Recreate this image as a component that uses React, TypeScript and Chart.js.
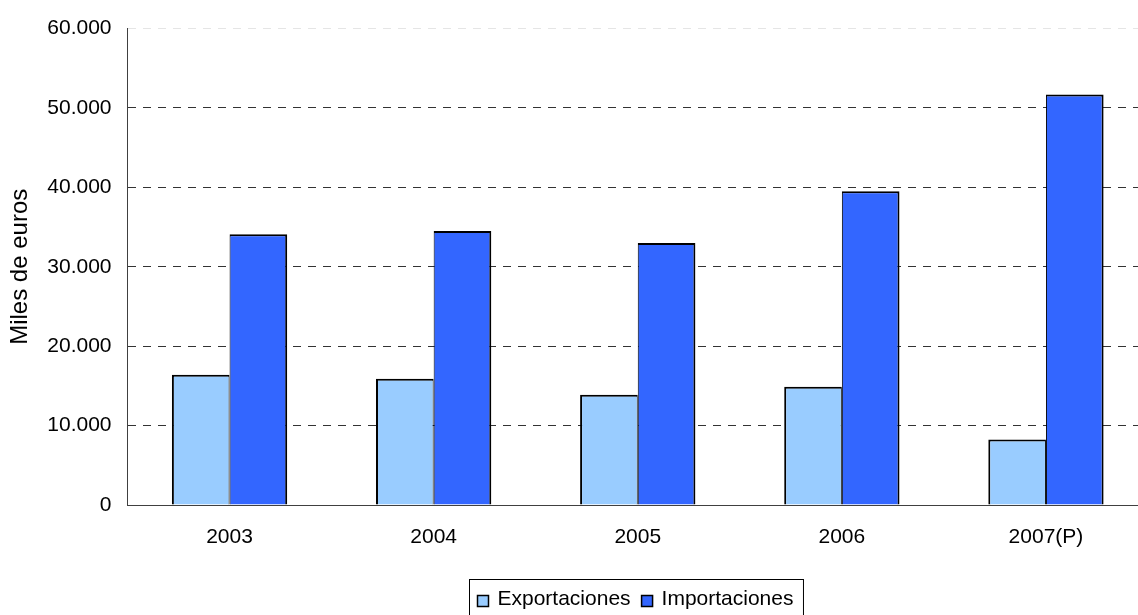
import React, { useEffect, useRef } from "react";
import { Chart, registerables } from "chart.js";

Chart.register(...registerables);

const categories = ["2003", "2004", "2005", "2006", "2007(P)"];
const exportaciones = [16400, 15900, 13900, 14900, 8250];
const importaciones = [34100, 34500, 33000, 39500, 51700];
const seriesLabels = ["Exportaciones", "Importaciones"];
const seriesColors = ["#99CCFF", "#3366FF"];
const yAxisTitle = "Miles de euros";

const FONT = "'Liberation Sans', Arial, sans-serif";

const fmt = (v: number) => String(v).replace(/\B(?=(\d{3})+(?!\d))/g, ".");

const boxLegend = {
  id: "boxLegend",
  afterDraw(chart: any) {
    const ctx = chart.ctx as CanvasRenderingContext2D;
    ctx.save();
    ctx.font = `21px ${FONT}`;
    const sw = 11;
    const padL = 8;
    const gapSwText = 9;
    const gapItems = 11;
    const padR = 10;
    const widths = seriesLabels.map((l) => ctx.measureText(l).width);
    let total = padL + padR;
    widths.forEach((w, i) => {
      total += sw + gapSwText + w + (i < widths.length - 1 ? gapItems : 0);
    });
    const cx = (chart.chartArea.left + chart.chartArea.right) / 2;
    const left = Math.round(cx - total / 2) - 1.5;
    const top = 579.5;
    ctx.strokeStyle = "#000";
    ctx.lineWidth = 1;
    ctx.strokeRect(left, top, total, 60);
    let x = left + padL;
    const baseline = 604.5;
    seriesLabels.forEach((label, i) => {
      ctx.fillStyle = seriesColors[i];
      ctx.fillRect(x, 595.5, sw, sw);
      ctx.strokeStyle = "#000";
      ctx.lineWidth = 1.5;
      ctx.strokeRect(x, 595.5, sw, sw);
      x += sw + gapSwText;
      ctx.fillStyle = "#000";
      ctx.textBaseline = "alphabetic";
      ctx.textAlign = "left";
      ctx.fillText(label, x, baseline);
      x += widths[i] + gapItems;
    });
    ctx.restore();
  },
};

export default function App() {
  const ref = useRef<HTMLCanvasElement | null>(null);

  useEffect(() => {
    if (!ref.current) return;
    Chart.defaults.color = "#000";
    Chart.defaults.font.family = FONT;
    const chart = new Chart(ref.current, {
      type: "bar",
      data: {
        labels: categories,
        datasets: [
          {
            label: seriesLabels[0],
            data: exportaciones,
            backgroundColor: seriesColors[0],
            borderColor: "#000",
            borderWidth: { top: 2, left: 2, right: 1, bottom: 0 },
            borderSkipped: false,
          },
          {
            label: seriesLabels[1],
            data: importaciones,
            backgroundColor: seriesColors[1],
            borderColor: "#000",
            borderWidth: { top: 2, left: 1, right: 2, bottom: 0 },
            borderSkipped: false,
          },
        ],
      },
      options: {
        animation: false,
        responsive: false,
        maintainAspectRatio: false,
        layout: { padding: { top: 27, right: 127, left: 0, bottom: 0 } },
        plugins: {
          legend: { display: false },
          tooltip: { enabled: false },
        },
        datasets: {
          bar: { categoryPercentage: 0.565, barPercentage: 1 },
        },
        scales: {
          x: {
            grid: { display: false, drawTicks: false },
            border: { display: true, color: "#404040", width: 1 },
            ticks: { font: { size: 21 }, padding: 20, color: "#000", maxRotation: 0 },
            afterFit: (s: any) => {
              s.height = 110;
            },
          },
          y: {
            min: 0,
            max: 60000,
            ticks: {
              stepSize: 10000,
              font: { size: 21 },
              padding: 16,
              color: "#000",
              callback: (v: any) => fmt(Number(v)),
            },
            grid: {
              drawTicks: false,
              lineWidth: 1,
              color: (c: any) => {
                const v = c.tick ? c.tick.value : 0;
                if (v === 0) return "rgba(0,0,0,0)";
                if (v === 60000) return "rgba(0,0,0,0.1)";
                return "#333";
              },
            },
            border: { display: true, color: "#404040", width: 1, dash: [8, 7] },
            title: {
              display: true,
              text: yAxisTitle,
              font: { size: 24 },
              color: "#000",
              padding: { top: 6, bottom: 0 },
            },
            afterFit: (s: any) => {
              s.width = 127.5;
            },
          },
        },
      },
      plugins: [boxLegend],
    });
    return () => chart.destroy();
  }, []);

  return (
    <div
      style={{
        position: "absolute",
        left: 0,
        top: 0,
        width: 1138,
        height: 615,
        overflow: "hidden",
        background: "#fff",
      }}
    >
      <canvas ref={ref} width={1275} height={615} style={{ display: "block", width: 1275, height: 615 }} />
    </div>
  );
}
